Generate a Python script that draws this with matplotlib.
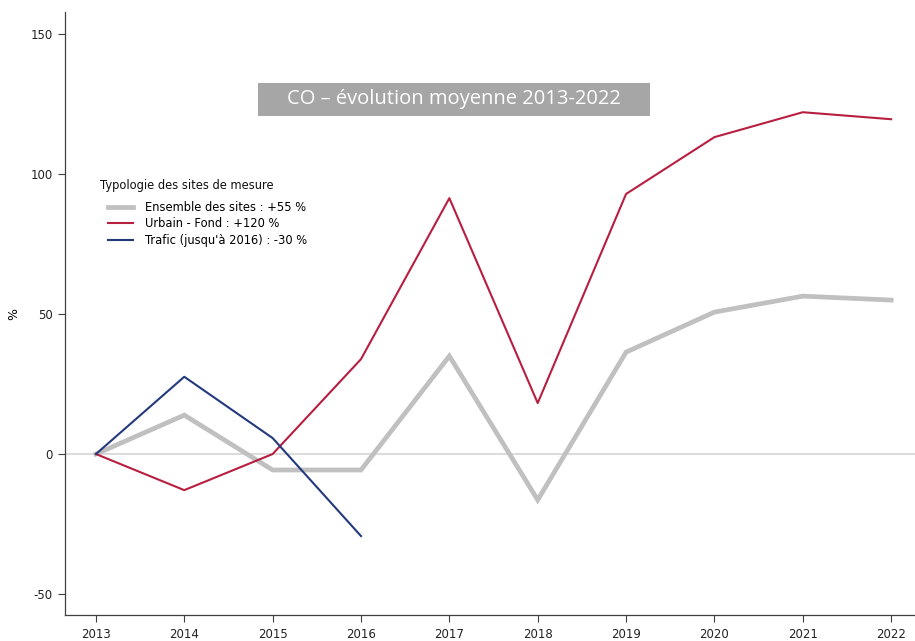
import numpy as np
import matplotlib
matplotlib.use("Agg")
import matplotlib.pyplot as plt
from matplotlib.patches import Rectangle

plt.rcParams["axes.unicode_minus"] = False

years = [2013, 2014, 2015, 2016, 2017, 2018, 2019, 2020, 2021, 2022]
ensemble = [0, 13.9, -5.7, -5.7, 35.0, -16.4, 36.4, 50.7, 56.4, 55.0]
urbain = [0, -12.9, 0.0, 33.9, 91.4, 18.2, 92.9, 113.2, 122.1, 119.6]
trafic_years = [2013, 2014, 2015, 2016]
trafic = [0, 27.6, 5.7, -29.3]

labels = ["Ensemble des sites : +55 %", "Urbain - Fond : +120 %",
          "Trafic (jusqu'à 2016) : -30 %"]
legend_title = "Typologie des sites de mesure"
title = "CO \u2013 évolution moyenne 2013-2022"

fig = plt.figure(figsize=(9.15, 6.41), dpi=100)
ax = fig.add_axes([65 / 915, 1 - 615 / 641, 850 / 915, 603 / 641])

ax.axhline(0, color="#d9d9d9", lw=1.3, zorder=1)
ax.plot(years, ensemble, color="#c0c0c0", lw=3.4, solid_joinstyle="miter", label=labels[0], zorder=2)
ax.plot(years, urbain, color="#b81e40", lw=1.5, label=labels[1], zorder=3)
ax.plot(trafic_years, trafic, color="#23397d", lw=1.5, label=labels[2], zorder=4)

ax.set_xlim(2012.65, 2022.27)
ax.set_ylim(-57.5, 157.9)
ax.set_xticks(years)
ax.set_yticks([-50, 0, 50, 100, 150])
for s in ["top", "right"]:
    ax.spines[s].set_visible(False)
for s in ["left", "bottom"]:
    ax.spines[s].set_color("#404040")
    ax.spines[s].set_linewidth(0.9)
ax.tick_params(axis="both", direction="out", length=5, width=0.8, color="#404040",
               labelsize=8.5, labelcolor="#222222", pad=4)
ax.set_ylabel("%", fontsize=9)
ax.yaxis.set_label_coords(-45 / 850, 0.5)

# legend: title drawn separately so the handles sit indented under it
ax.text(35 / 850, (615 - 186) / 603, legend_title, transform=ax.transAxes,
        fontsize=8.3, va="center", ha="left", color="#111111")
ax.legend(loc="upper left", bbox_to_anchor=(43 / 850, (615 - 201) / 603),
          borderaxespad=0, borderpad=0, frameon=False, fontsize=8.3,
          handlelength=2.17, labelspacing=0.3, handletextpad=1.05)

# title box
fig.patches.append(Rectangle((258 / 915, 1 - 116 / 641), 392 / 915, 33 / 641,
                             transform=fig.transFigure, fc="#a6a6a6", ec="none"))
fig.text(454 / 915, 1 - 99 / 641, title, ha="center", va="center", fontsize=14.5,
         color="white", family="Open Sans")

fig.savefig("out.png", dpi=100)
